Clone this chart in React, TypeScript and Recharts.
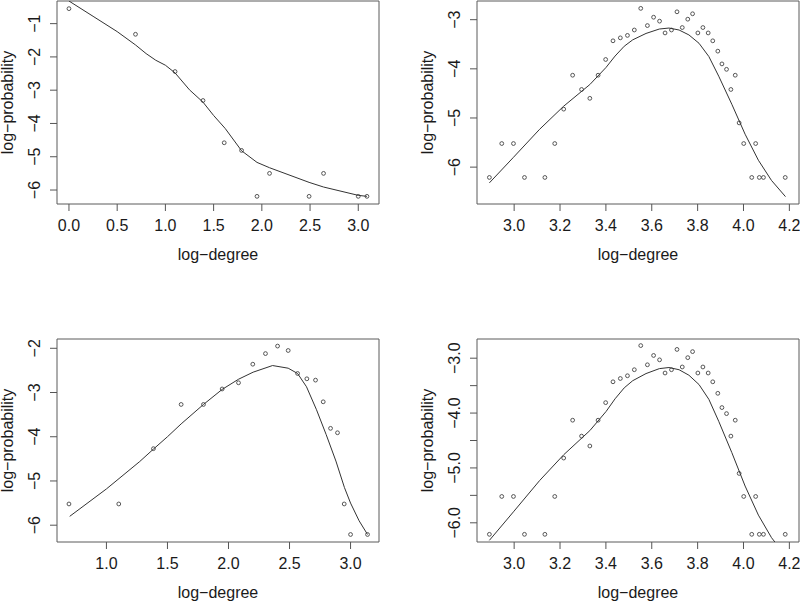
import React from 'react';
import { ScatterChart, Scatter, XAxis, YAxis, ReferenceArea, Label } from 'recharts';

const FONT = '"Liberation Sans", Arial, Helvetica, sans-serif';
const MINUS = '\u2212';

// top-left panel: observed points and smoothed fit
const degree1 = [0, 0.69, 1.1, 1.39, 1.61, 1.79, 1.95, 2.08, 2.49, 2.64, 3.0, 3.09];
const prob1 = [-0.55, -1.32, -2.44, -3.31, -4.58, -4.81, -6.19, -5.5, -6.19, -5.5, -6.19, -6.19];
const fitDegree1 = [0, 0.25, 0.5, 0.69, 0.8, 0.9, 1.0, 1.1, 1.25, 1.39, 1.5, 1.62, 1.79, 1.95, 2.08, 2.49, 2.64, 3.0, 3.09];
const fitProb1 = [-0.32, -0.78, -1.24, -1.64, -1.9, -2.1, -2.25, -2.48, -2.99, -3.36, -3.76, -4.15, -4.82, -5.17, -5.33, -5.77, -5.91, -6.16, -6.19];

// right-hand panels (same data, two y scales)
const degree2 = [
  2.892, 2.946, 2.997, 3.045, 3.134, 3.177, 3.216, 3.255, 3.294, 3.33, 3.366, 3.399, 3.431, 3.463,
  3.494, 3.524, 3.552, 3.581, 3.608, 3.634, 3.658, 3.686, 3.71, 3.733, 3.757, 3.778, 3.801, 3.823,
  3.846, 3.866, 3.888, 3.906, 3.926, 3.945, 3.964, 3.981, 4.001, 4.036, 4.053, 4.069, 4.087, 4.182,
];
const prob2 = [
  -6.21, -5.52, -5.52, -6.21, -6.21, -5.52, -4.82, -4.13, -4.42, -4.6, -4.13, -3.81, -3.43, -3.37,
  -3.32, -3.21, -2.77, -3.12, -2.95, -3.03, -3.27, -3.21, -2.84, -3.16, -2.99, -2.88, -3.27, -3.16,
  -3.27, -3.43, -3.64, -3.9, -4.01, -4.42, -4.13, -5.1, -5.52, -6.21, -5.52, -6.21, -6.21, -6.21,
];
const fitDegree2 = [2.892, 2.997, 3.111, 3.216, 3.33, 3.401, 3.44, 3.48, 3.517, 3.575, 3.633, 3.675, 3.719, 3.762, 3.806, 3.849, 3.892, 3.949, 4.007, 4.065, 4.122, 4.183];
const fitProb2 = [-6.32, -5.8, -5.23, -4.76, -4.32, -3.97, -3.74, -3.54, -3.41, -3.28, -3.19, -3.17, -3.21, -3.31, -3.48, -3.75, -4.15, -4.72, -5.33, -5.86, -6.27, -6.6];

// bottom-left panel
const degree3 = [0.693, 1.101, 1.385, 1.612, 1.795, 1.948, 2.082, 2.199, 2.303, 2.402, 2.489, 2.566, 2.642, 2.713, 2.776, 2.836, 2.893, 2.948, 3.0, 3.139];
const prob3 = [-5.52, -5.52, -4.27, -3.27, -3.27, -2.92, -2.78, -2.36, -2.12, -1.95, -2.05, -2.57, -2.69, -2.72, -3.21, -3.81, -3.91, -5.52, -6.21, -6.21];
const fitDegree3 = [0.699, 1.0, 1.273, 1.385, 1.5, 1.612, 1.795, 1.948, 2.082, 2.202, 2.361, 2.489, 2.566, 2.639, 2.721, 2.8, 2.88, 2.95, 3.0, 3.07, 3.139];
const fitProb3 = [-5.8, -5.18, -4.56, -4.28, -4.0, -3.71, -3.27, -2.93, -2.7, -2.54, -2.39, -2.45, -2.57, -2.87, -3.39, -3.95, -4.55, -5.15, -5.5, -5.9, -6.21];

// tick values
const xTicks1 = [0, 0.5, 1.0, 1.5, 2.0, 2.5, 3.0];
const yTicks1 = [-1, -2, -3, -4, -5, -6];
const xTicks2 = [3.0, 3.2, 3.4, 3.6, 3.8, 4.0, 4.2];
const yTicks2 = [-3, -4, -5, -6];
const xTicks3 = [1.0, 1.5, 2.0, 2.5, 3.0];
const yTicks3 = [-2, -3, -4, -5, -6];
const yTicks4 = [-3, -3.5, -4, -4.5, -5, -5.5, -6];

type Pt = { x: number; y: number };
const zip = (xs: number[], ys: number[]): Pt[] => xs.map((x, i) => ({ x, y: ys[i] }));
const fmt = (v: number, digits: number) => v.toFixed(digits).replace('-', MINUS);

const textStyle = { fontFamily: FONT, fontSize: 16, fill: '#1a1a1a' };

const dot = (p: any) => (
  <circle cx={p.cx} cy={p.cy} r={1.9} fill="none" stroke="#444" strokeWidth={0.9} />
);
const noDot = () => <g />;

interface PanelProps {
  left: number;
  top: number;
  width: number;
  height: number;
  marginTop: number;
  marginRight: number;
  xAxisHeight: number;
  xDomain: [number, number];
  yDomain: [number, number];
  xTicks: number[];
  yTicks: number[];
  yDigits: number;
  points: Pt[];
  fit: Pt[];
}

const Panel: React.FC<PanelProps> = (p) => {
  const plotLeft = 57;
  const plotRight = p.width - p.marginRight;
  const plotTop = p.marginTop;
  const plotBottom = p.height - p.xAxisHeight;

  const xTick = (t: any) => (
    <text x={t.x} y={t.y} textAnchor="middle" dominantBaseline="central" {...textStyle}>
      {fmt(t.payload.value, 1)}
    </text>
  );
  const yTick = (t: any) =>
    Number.isInteger(t.payload.value) ? (
      <text
        x={t.x}
        y={t.y}
        transform={`rotate(-90 ${t.x} ${t.y})`}
        textAnchor="middle"
        dominantBaseline="central"
        {...textStyle}
      >
        {fmt(t.payload.value, p.yDigits)}
      </text>
    ) : (
      <g />
    );

  const xTitle = () => (
    <text x={(plotLeft + plotRight) / 2} y={plotBottom + 50} textAnchor="middle" dominantBaseline="central" {...textStyle}>
      {`log${MINUS}degree`}
    </text>
  );
  const yTitle = () => {
    const cx = plotLeft - 50;
    const cy = (plotTop + plotBottom) / 2;
    return (
      <text x={cx} y={cy} transform={`rotate(-90 ${cx} ${cy})`} textAnchor="middle" dominantBaseline="central" {...textStyle}>
        {`log${MINUS}probability`}
      </text>
    );
  };

  return (
    <div style={{ position: 'absolute', left: p.left, top: p.top }}>
      <ScatterChart
        width={p.width}
        height={p.height}
        margin={{ top: p.marginTop, right: p.marginRight, bottom: 0, left: 0 }}
      >
        <XAxis
          type="number"
          dataKey="x"
          domain={p.xDomain}
          allowDataOverflow
          ticks={p.xTicks}
          interval={0}
          height={p.xAxisHeight}
          axisLine={false}
          tickLine={{ stroke: '#555', strokeWidth: 1 }}
          tickSize={7}
          tickMargin={14}
          tick={xTick}
        >
          <Label content={xTitle} />
        </XAxis>
        <YAxis
          type="number"
          dataKey="y"
          domain={p.yDomain}
          allowDataOverflow
          ticks={p.yTicks}
          interval={0}
          width={57}
          axisLine={false}
          tickLine={{ stroke: '#555', strokeWidth: 1 }}
          tickSize={7}
          tickMargin={15}
          tick={yTick}
        >
          <Label content={yTitle} />
        </YAxis>
        <ReferenceArea
          x1={p.xDomain[0]}
          x2={p.xDomain[1]}
          y1={p.yDomain[0]}
          y2={p.yDomain[1]}
          fill="none"
          fillOpacity={0}
          stroke="#5a5a5a"
          strokeWidth={1}
          ifOverflow="visible"
        />
        <Scatter data={p.points} shape={dot} isAnimationActive={false} />
        <Scatter
          data={p.fit}
          shape={noDot}
          line={{ stroke: '#333', strokeWidth: 1 }}
          lineType="joint"
          isAnimationActive={false}
        />
      </ScatterChart>
    </div>
  );
};

const App: React.FC = () => {
  const points2 = zip(degree2, prob2);
  const fit2 = zip(fitDegree2, fitProb2);
  return (
    <div
      style={{
        position: 'absolute',
        left: 0,
        top: 0,
        width: 800,
        height: 601,
        overflow: 'hidden',
        background: '#fff',
      }}
    >
      <Panel
        left={0}
        top={0}
        width={400}
        height={300}
        marginTop={1}
        marginRight={21}
        xAxisHeight={96}
        xDomain={[-0.124, 3.215]}
        yDomain={[-6.42, -0.32]}
        xTicks={xTicks1}
        yTicks={yTicks1}
        yDigits={0}
        points={zip(degree1, prob1)}
        fit={zip(fitDegree1, fitProb1)}
      />
      <Panel
        left={420}
        top={0}
        width={380}
        height={300}
        marginTop={1}
        marginRight={1}
        xAxisHeight={96}
        xDomain={[2.838, 4.242]}
        yDomain={[-6.75, -2.62]}
        xTicks={xTicks2}
        yTicks={yTicks2}
        yDigits={0}
        points={points2}
        fit={fit2}
      />
      <Panel
        left={0}
        top={300}
        width={400}
        height={301}
        marginTop={39}
        marginRight={21}
        xAxisHeight={59}
        xDomain={[0.595, 3.233]}
        yDomain={[-6.38, -1.79]}
        xTicks={xTicks3}
        yTicks={yTicks3}
        yDigits={0}
        points={zip(degree3, prob3)}
        fit={zip(fitDegree3, fitProb3)}
      />
      <Panel
        left={420}
        top={300}
        width={380}
        height={301}
        marginTop={39}
        marginRight={1}
        xAxisHeight={59}
        xDomain={[2.838, 4.242]}
        yDomain={[-6.35, -2.65]}
        xTicks={xTicks2}
        yTicks={yTicks4}
        yDigits={1}
        points={points2}
        fit={fit2}
      />
    </div>
  );
};

export default App;
